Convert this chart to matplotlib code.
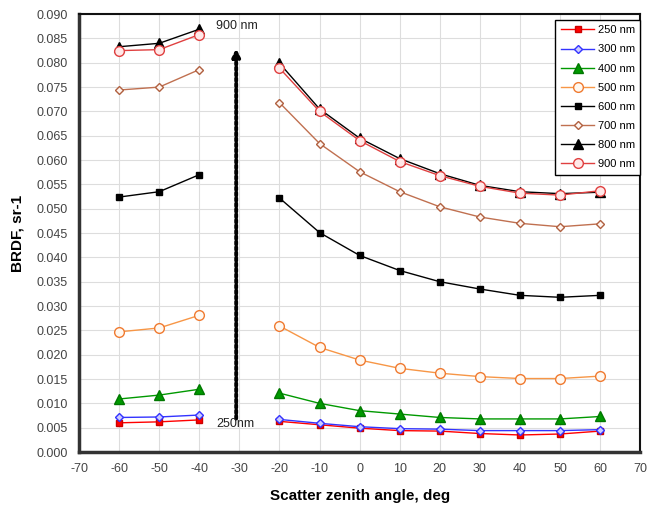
import numpy as np
import matplotlib
matplotlib.use("Agg")
import matplotlib.pyplot as plt

plt.rcParams['font.family'] = ['Liberation Sans', 'DejaVu Sans']
plt.rcParams['axes.unicode_minus'] = False

angles_left = [-60, -50, -40]
angles_right = [-20, -10, 0, 10, 20, 30, 40, 50, 60]

labels = ["250 nm", "300 nm", "400 nm", "500 nm", "600 nm", "700 nm", "800 nm", "900 nm"]

left_vals = {
    "250 nm": [0.0060, 0.0062, 0.0066],
    "300 nm": [0.0071, 0.0072, 0.0076],
    "400 nm": [0.0109, 0.0117, 0.0129],
    "500 nm": [0.0247, 0.0255, 0.0281],
    "600 nm": [0.0524, 0.0535, 0.0570],
    "700 nm": [0.0744, 0.0750, 0.0786],
    "800 nm": [0.0833, 0.0840, 0.0869],
    "900 nm": [0.0825, 0.0827, 0.0858],
}
right_vals = {
    "250 nm": [0.0063, 0.0056, 0.0049, 0.0044, 0.0043, 0.0038, 0.0035, 0.0037, 0.0043],
    "300 nm": [0.0067, 0.0059, 0.0052, 0.0048, 0.0047, 0.0044, 0.0044, 0.0044, 0.0046],
    "400 nm": [0.0121, 0.0100, 0.0085, 0.0078, 0.0071, 0.0068, 0.0068, 0.0068, 0.0073],
    "500 nm": [0.0259, 0.0215, 0.0189, 0.0172, 0.0162, 0.0155, 0.0151, 0.0151, 0.0156],
    "600 nm": [0.0522, 0.0451, 0.0404, 0.0373, 0.0350, 0.0335, 0.0322, 0.0318, 0.0322],
    "700 nm": [0.0718, 0.0634, 0.0576, 0.0535, 0.0504, 0.0483, 0.0470, 0.0463, 0.0469],
    "800 nm": [0.0799, 0.0705, 0.0645, 0.0603, 0.0572, 0.0548, 0.0535, 0.0531, 0.0534],
    "900 nm": [0.0789, 0.0700, 0.0640, 0.0597, 0.0568, 0.0546, 0.0532, 0.0528, 0.0537],
}

styles = {
    "250 nm": dict(color="#ff0000", marker="s", mfc="#ff0000", mec="#cc0000", ms=5),
    "300 nm": dict(color="#3333ff", marker="D", mfc="#ccccff", mec="#3333ff", ms=4.5),
    "400 nm": dict(color="#009900", marker="^", mfc="#009900", mec="#007700", ms=6.5),
    "500 nm": dict(color="#f79646", marker="o", mfc="#fff8f0", mec="#f07a30", ms=7),
    "600 nm": dict(color="#000000", marker="s", mfc="#000000", mec="#000000", ms=5),
    "700 nm": dict(color="#c07050", marker="D", mfc="#fff5f0", mec="#b06040", ms=4.5),
    "800 nm": dict(color="#000000", marker="^", mfc="#000000", mec="#000000", ms=6.5),
    "900 nm": dict(color="#e04040", marker="o", mfc="#ffe8e8", mec="#e04040", ms=7),
}

fig = plt.figure(figsize=(6.48, 5.17), dpi=100)
ax = fig.add_axes([0.122, 0.1257, 0.866, 0.847])

for lab in labels:
    st = styles[lab]
    x = angles_left + [np.nan] + angles_right
    y = left_vals[lab] + [np.nan] + right_vals[lab]
    ax.plot(x, y, color=st["color"], marker=st["marker"], mfc=st["mfc"],
            mec=st["mec"], ms=st["ms"], lw=1.0, mew=1.0, label=lab)

# dotted arrow
ax.annotate("", xy=(-30.8, 0.0835), xytext=(-30.8, 0.0063),
            arrowprops=dict(arrowstyle="-|>", linestyle=(0, (0.7, 0.7)), lw=2.8,
                            color="black", mutation_scale=11))
ax.text(-35.8, 0.0876, "900 nm", fontsize=9, color="#222222", va="center", ha="left")
ax.text(-35.8, 0.0058, "250nm", fontsize=9, color="#222222", va="center", ha="left")

ax.set_xlim(-70, 70)
ax.set_ylim(0, 0.090)
ax.set_xticks(np.arange(-70, 71, 10))
ax.set_yticks(np.arange(0, 0.0901, 0.005))
ax.set_yticklabels([f"{v:.3f}" for v in np.arange(0, 0.0901, 0.005)])
ax.tick_params(axis='both', labelsize=9, colors="#444444", length=0, pad=8)
ax.grid(True, color="#dddddd", lw=0.8)
ax.set_axisbelow(True)

for side in ["left", "bottom"]:
    ax.spines[side].set_linewidth(2.5)
    ax.spines[side].set_color("#333333")
for side in ["top", "right"]:
    ax.spines[side].set_linewidth(1.5)
    ax.spines[side].set_color("#111111")

ax.set_xlabel("Scatter zenith angle, deg", fontsize=11, fontweight="bold", labelpad=10)
ax.set_ylabel("BRDF, sr-1", fontsize=11, fontweight="bold", labelpad=9)

leg = ax.legend(loc="upper right", bbox_to_anchor=(1.0, 0.987), borderaxespad=0,
                fontsize=8, frameon=True, fancybox=False, edgecolor="black",
                framealpha=1, handlelength=3, borderpad=0.5, labelspacing=0.82,
                handletextpad=0.3)
leg.get_frame().set_linewidth(1.0)

fig.savefig("out.png", dpi=100)
